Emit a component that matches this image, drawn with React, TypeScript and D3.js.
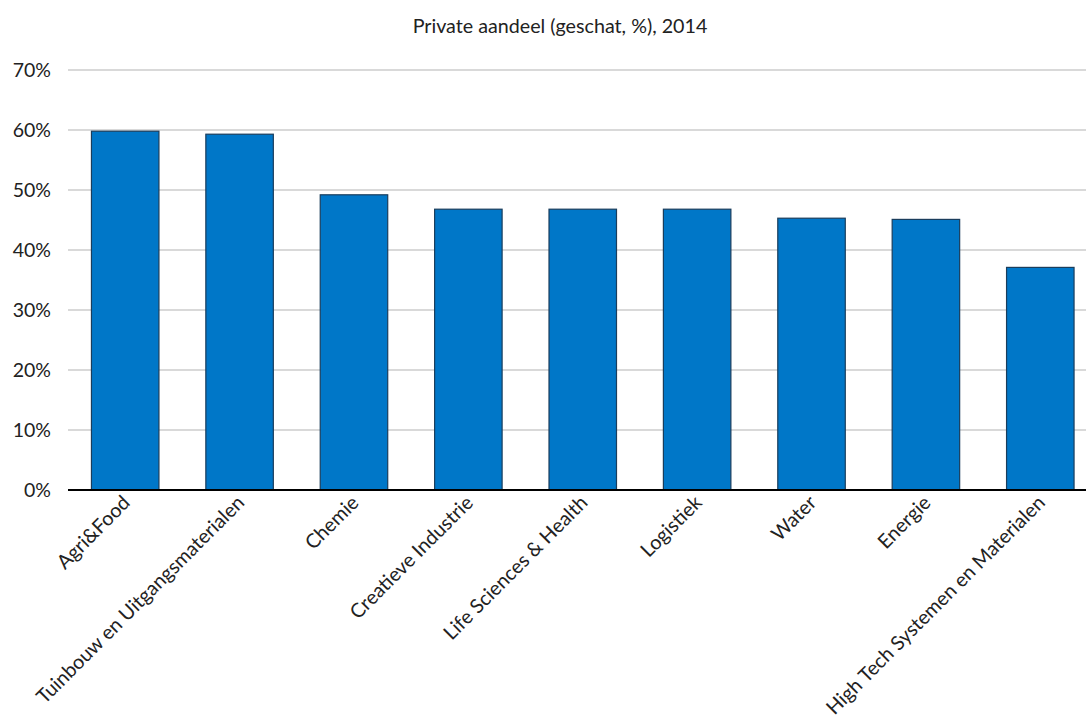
import React from "react";
import * as d3 from "d3";

const categories = [
  "Agri&Food",
  "Tuinbouw en Uitgangsmaterialen",
  "Chemie",
  "Creatieve Industrie",
  "Life Sciences & Health",
  "Logistiek",
  "Water",
  "Energie",
  "High Tech Systemen en Materialen",
];
const values = [59.8, 59.3, 49.2, 46.8, 46.8, 46.8, 45.3, 45.1, 37.1];
const yTicks = [0, 10, 20, 30, 40, 50, 60, 70];
const title = "Private aandeel (geschat, %), 2014";

const W = 1086;
const H = 725;
const FONT = "Lato, 'Open Sans', sans-serif";

export default function App() {
  const x = d3.scaleBand<string>().domain(categories).range([68, 1097.5]).paddingInner(0.41).paddingOuter(0.205);
  const y = d3.scaleLinear().domain([0, 70]).range([490, 70]);
  const gridRight = 1086;
  const left = 68;
  return (
    <svg width={W} height={H} style={{ position: "absolute", left: 0, top: 0, background: "#fff" }} fontFamily={FONT}>
      <text x={560} y={33} textAnchor="middle" fontSize={19.7} fill="#222">{title}</text>
      {yTicks.map((t) => (
        <g key={t}>
          {t > 0 && <line x1={left} x2={gridRight} y1={y(t)} y2={y(t)} stroke="#d9d9d9" strokeWidth={2} />}
          <text x={51} y={y(t)} dy="0.35em" textAnchor="end" fontSize={19.5} fill="#222">{`${t}%`}</text>
        </g>
      ))}
      {categories.map((c, i) => (
        <rect key={c} x={x(c)!} y={y(values[i])} width={x.bandwidth()} height={y(0) - y(values[i])}
          fill="#0077c8" stroke="#1a3d5c" strokeWidth={1.2} />
      ))}
      <line x1={left} x2={gridRight} y1={y(0)} y2={y(0)} stroke="#000" strokeWidth={2} />
      {categories.map((c) => {
        const cx = x(c)! + x.bandwidth() / 2 + 6;
        return (
          <text key={c} transform={`translate(${cx},${504}) rotate(-45)`} textAnchor="end" fontSize={19.8} fill="#222">{c}</text>
        );
      })}
    </svg>
  );
}
